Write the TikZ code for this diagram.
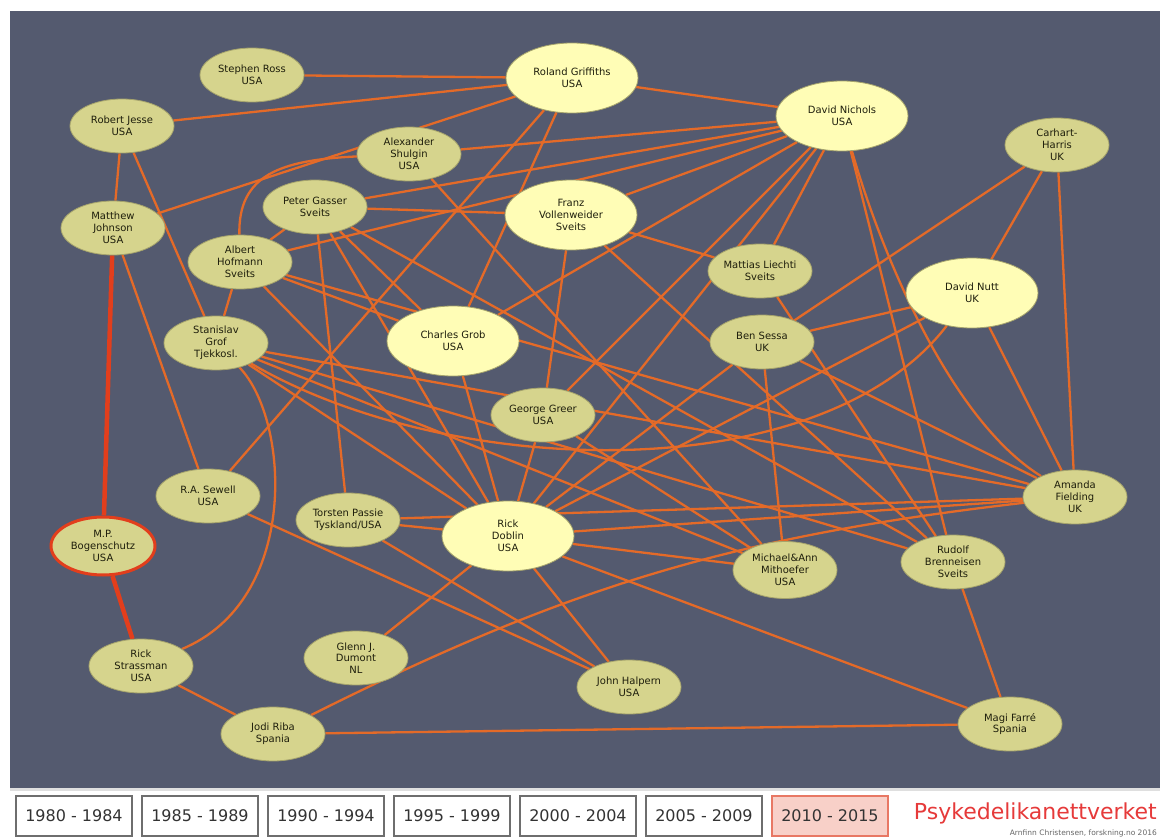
\documentclass[tikz,border=0pt]{standalone}
\usepackage{fontspec}
\setmainfont{DejaVu Sans}
\usetikzlibrary{shapes.geometric}
\pgfdeclarelayer{bg}
\pgfdeclarelayer{links}
\pgfsetlayers{bg,links,main}
\definecolor{slate}{RGB}{84,90,111}
\definecolor{olivefill}{RGB}{214,212,141}
\definecolor{palefill}{RGB}{255,253,182}
\definecolor{rimcol}{RGB}{165,163,108}
\definecolor{linkorange}{RGB}{228,106,40}
\definecolor{linkred}{RGB}{226,62,28}
\definecolor{nametext}{RGB}{30,30,12}
\definecolor{boxgray}{RGB}{110,110,110}
\definecolor{activefill}{RGB}{248,208,200}
\definecolor{activedraw}{RGB}{232,120,100}
\definecolor{titlered}{RGB}{230,58,58}
\tikzset{
  person/.style={ellipse, draw=rimcol, line width=0.8pt, fill=olivefill, text=nametext,
    align=center, inner sep=0pt, minimum width=104pt, minimum height=54pt,
    font=\fontsize{10}{11.8}\selectfont},
  senior/.style={person, fill=palefill, minimum width=132pt, minimum height=70pt},
  link/.style={draw=linkorange, line width=2.3pt},
  redlink/.style={draw=linkred, line width=4.5pt},
  yearbox/.style={draw=boxgray, line width=1.2pt, fill=white, minimum width=116pt,
    minimum height=40pt, inner sep=0pt, font=\fontsize{16}{18}\selectfont, text=black!80},
}
\begin{document}
\begin{tikzpicture}[x=1pt, y=-1pt]
\useasboundingbox (0,0) rectangle (1160,840);
%%%%% Background %%%%%
\begin{pgfonlayer}{bg}
\fill[white] (0,0) rectangle (1160,840);
\fill[slate] (10,11) rectangle (1160,788);
\fill[gray!25] (10,788) rectangle (1160,791);
\end{pgfonlayer}
%%%%% Researchers %%%%%
\node[person] (ross) at (252,75) {Stephen Ross\\USA};
\node[senior] (griffiths) at (572,78) {Roland Griffiths\\USA};
\node[senior] (nichols) at (842,116) {David Nichols\\USA};
\node[person] (carhart) at (1057,145) {Carhart-\\Harris\\UK};
\node[person] (jesse) at (122,126) {Robert Jesse\\USA};
\node[person] (shulgin) at (409,154) {Alexander\\Shulgin\\USA};
\node[person] (gasser) at (315,207) {Peter Gasser\\Sveits};
\node[senior] (vollenweider) at (571,215) {Franz\\Vollenweider\\Sveits};
\node[person] (johnson) at (113,228) {Matthew\\Johnson\\USA};
\node[person] (hofmann) at (240,262) {Albert\\Hofmann\\Sveits};
\node[person] (liechti) at (760,271) {Mattias Liechti\\Sveits};
\node[senior] (nutt) at (972,293) {David Nutt\\UK};
\node[person] (grof) at (216,343) {Stanislav\\Grof\\Tjekkosl.};
\node[senior] (grob) at (453,341) {Charles Grob\\USA};
\node[person] (sessa) at (762,342) {Ben Sessa\\UK};
\node[person] (greer) at (543,415) {George Greer\\USA};
\node[person] (sewell) at (208,496) {R.A. Sewell\\USA};
\node[person] (passie) at (348,520) {Torsten Passie\\Tyskland/USA};
\node[senior] (doblin) at (508,536) {Rick\\Doblin\\USA};
\node[person, draw=linkred, line width=3pt, minimum height=58pt] (bogenschutz) at (103,546) {M.P.\\Bogenschutz\\USA};
\node[person] (fielding) at (1075,497) {Amanda\\Fielding\\UK};
\node[person, minimum height=57pt] (mithoefer) at (785,570) {Michael\&Ann\\Mithoefer\\USA};
\node[person] (brenneisen) at (953,562) {Rudolf\\Brenneisen\\Sveits};
\node[person] (strassman) at (141,666) {Rick\\Strassman\\USA};
\node[person] (dumont) at (356,658) {Glenn J.\\Dumont\\NL};
\node[person] (halpern) at (629,687) {John Halpern\\USA};
\node[person] (riba) at (273,734) {Jodi Riba\\Spania};
\node[person] (farre) at (1010,724) {Magi Farré\\Spania};
%%%%% Links %%%%%
\begin{pgfonlayer}{links}
\foreach \a/\b in {ross/griffiths, jesse/griffiths, johnson/griffiths, griffiths/nichols,
  griffiths/grob, griffiths/sewell, jesse/johnson, jesse/grof, johnson/sewell,
  strassman/riba, riba/farre, dumont/doblin, sewell/halpern, passie/halpern,
  doblin/halpern, doblin/farre, brenneisen/farre, shulgin/nichols, shulgin/mithoefer,
  gasser/nichols, gasser/vollenweider, gasser/hofmann, gasser/passie, gasser/doblin,
  gasser/grob, gasser/brenneisen, hofmann/nichols, hofmann/grof, hofmann/doblin,
  hofmann/grob, hofmann/fielding, vollenweider/nichols, vollenweider/liechti,
  vollenweider/greer, vollenweider/brenneisen, nichols/grob, nichols/greer,
  nichols/doblin, nichols/liechti, nichols/brenneisen, carhart/fielding, carhart/nutt,
  carhart/sessa, nutt/fielding, nutt/sessa, nutt/doblin, grof/doblin, grof/mithoefer,
  grof/brenneisen, grof/fielding, grob/doblin, greer/doblin, greer/mithoefer,
  sessa/mithoefer, sessa/fielding, sessa/doblin, passie/doblin, passie/fielding,
  doblin/fielding, doblin/mithoefer, liechti/brenneisen}{
\draw[link] (\a) -- (\b);
}
\draw[link] (grof) .. controls (290,420) and (300,600) .. (strassman);
\draw[link] (shulgin) .. controls (280,160) and (238,175) .. (hofmann);
\draw[link] (nichols) .. controls (880,250) and (950,420) .. (fielding);
\draw[link] (grof) .. controls (450,480) and (820,490) .. (nutt);
\draw[link] (riba) to[bend left=10] (fielding);
\draw[redlink] (johnson) -- (bogenschutz);
\draw[redlink] (bogenschutz) -- (strassman);
\end{pgfonlayer}
%%%%% Legend %%%%%
\foreach \yr [count=\i from 0] in {1980 - 1984, 1985 - 1989, 1990 - 1994, 1995 - 1999, 2000 - 2004, 2005 - 2009}{
\node[yearbox] (year\i) at (74+126*\i, 816) {\yr};
}
\node[yearbox, fill=activefill, draw=activedraw] (year6) at (830,816) {2010 - 2015};
\node[font=\fontsize{22}{24}\selectfont, text=titlered, anchor=base east, inner sep=0pt] (title) at (1157,819) {Psykedelikanettverket};
\node[font=\fontsize{7.5}{9}\selectfont, text=black!60, anchor=base east, inner sep=0pt] (credit) at (1157,835) {Arnfinn Christensen, forskning.no 2016};
\end{tikzpicture}
\end{document}
